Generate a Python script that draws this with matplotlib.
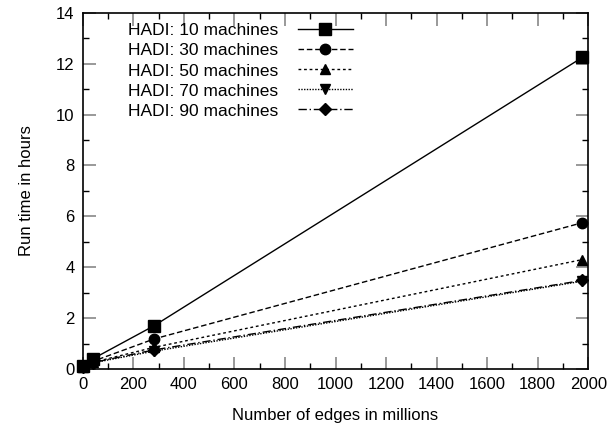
import matplotlib
matplotlib.use("Agg")
import matplotlib.pyplot as plt
from matplotlib.ticker import MultipleLocator

plt.rcParams['font.family'] = ['Liberation Sans', 'DejaVu Sans']

edges = [0.3, 40, 282, 1977]
series_labels = ["HADI: 10 machines", "HADI: 30 machines", "HADI: 50 machines",
                 "HADI: 70 machines", "HADI: 90 machines"]
hours_10 = [0.12, 0.40, 1.70, 12.25]
hours_30 = [0.10, 0.30, 1.18, 5.75]
hours_50 = [0.08, 0.26, 0.85, 4.30]
hours_70 = [0.08, 0.24, 0.70, 3.45]
hours_90 = [0.08, 0.25, 0.75, 3.48]
series = [hours_10, hours_30, hours_50, hours_70, hours_90]

markers = ['s', 'o', '^', 'v', 'D']
msizes = [8, 7.5, 7, 7, 6]
styles = ['-', (0, (4, 2)), (0, (2, 2)), (0, (1, 1)), (0, (6, 2, 1, 2))]

fig = plt.figure(figsize=(6.14, 4.29), dpi=100)
ax = fig.add_axes([0.135, 0.140, 0.823, 0.830])

for vals, lab, m, ms, ls in zip(series, series_labels, markers, msizes, styles):
    ax.plot(edges, vals, color='black', linestyle=ls, linewidth=1.0,
            marker=m, markersize=ms, label=lab, clip_on=False, zorder=3)

ax.set_xlim(0, 2000)
ax.set_ylim(0, 14)
ax.xaxis.set_major_locator(MultipleLocator(200))
ax.xaxis.set_minor_locator(MultipleLocator(100))
ax.yaxis.set_major_locator(MultipleLocator(2))
ax.yaxis.set_minor_locator(MultipleLocator(1))
ax.tick_params(which='major', direction='in', length=9, width=1.2, color='#888888',
               top=True, right=True, labelsize=12, pad=6)
ax.tick_params(which='minor', direction='in', length=4.5, width=1, color='black',
               top=True, right=True)
for s in ax.spines.values():
    s.set_linewidth(1.2)

ax.set_xlabel("Number of edges in millions", fontsize=12, labelpad=11)
ax.set_ylabel("Run time in hours", fontsize=12, labelpad=16)

leg = ax.legend(loc='upper right', bbox_to_anchor=(0.551, 0.995), frameon=False,
                markerfirst=False, fontsize=12.5, handlelength=3.15,
                labelspacing=0.28, borderaxespad=0.0, borderpad=0.5,
                handletextpad=1.15)
for t in leg.get_texts():
    t.set_ha('right')
leg._legend_box.align = "right"

fig.savefig("out.png", dpi=100)
